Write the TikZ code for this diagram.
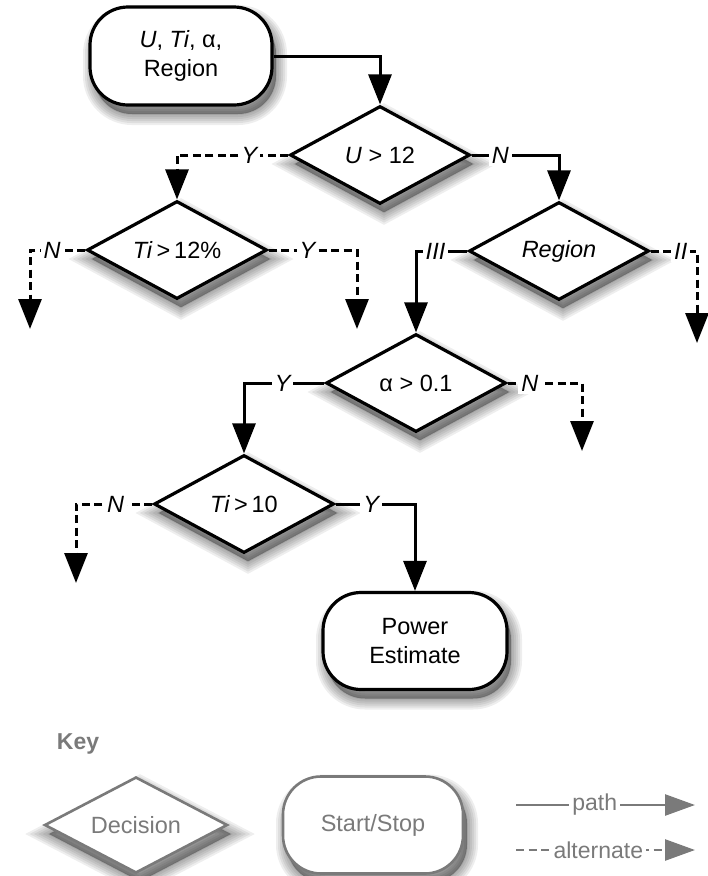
\documentclass[tikz,border=0pt]{standalone}
\usepackage{fontspec}
\setmainfont{Liberation Sans}
\usetikzlibrary{shapes.geometric,arrows.meta,shadows}
\definecolor{keygray}{HTML}{7A7A7A}
\begin{document}
\begin{tikzpicture}[x=1pt,y=-1pt,
  every node/.style={font=\fontsize{23.5}{29}\selectfont},
  sl/.style={drop shadow={shadow xshift=4pt,shadow yshift=-9pt,fill=black,draw=black,opacity=0.065,line width=#1}},
  shad/.style={sl=22pt,sl=18pt,sl=14pt,sl=10pt,sl=6pt,sl=2pt},
  dec/.style={diamond,draw,line width=3.2pt,fill=white,minimum width=180pt,minimum height=98pt,inner sep=0pt,shape aspect=1.8,shad},
  term/.style={rectangle,draw,line width=3.2pt,fill=white,rounded corners=38pt,minimum width=182pt,minimum height=98pt,align=center,shad},
  flow/.style={line width=3pt,-{Triangle[length=30pt,width=23pt]}},
  alt/.style={flow,dash pattern=on 8pt off 4.5pt},
  lab/.style={fill=white,inner sep=3pt,font=\fontsize{23.5}{27}\selectfont\itshape},
  keylab/.style={fill=white,inner sep=3pt,text=keygray,font=\fontsize{23}{27}\selectfont},
  keyflow/.style={line width=2.6pt,keygray,-{Triangle[length=30pt,width=21pt]}},
]
\useasboundingbox (0,0) rectangle (708,876);

% nodes
\node[term] (s) at (181,56) {\textit{U}, \textit{Ti}, α,\\Region};
\node[dec] (d1) at (380,155) {\textit{U} > 12};
\node[dec] (d2) at (177,250) {\textit{Ti}\,>\,12\%};
\node[dec] (d3) at (559,251) {\textit{Region}};
\node[dec] (d4) at (416,383) {α > 0.1};
\node[dec] (d5) at (244,504) {\textit{Ti}\,>\,10};
\node[term,minimum width=184pt,minimum height=97pt] (p) at (415,641) {Power\\Estimate};

% free ends
\coordinate (e1) at (30,329);
\coordinate (e2) at (357,329);
\coordinate (e3) at (697,343);
\coordinate (e4) at (582,451);
\coordinate (e5) at (76,583);

% connectors
\draw[flow] (s.east) -| (d1.north);
\draw[alt] (d1.west) -- node[lab,pos=0.35]{Y} (d1.west -| d2.north) -- (d2.north);
\draw[alt] (d2.west) -- node[lab,pos=0.6]{N} (d2.west -| e1) -- (e1);
\draw[alt] (d2.east) -- node[lab,pos=0.44]{Y} (d2.east -| e2) -- (e2);
\draw[flow] (d1.east) -- node[lab,pos=0.33]{N} (d1.east -| d3.north) -- (d3.north);
\draw[flow] (d3.west) -- node[lab,pos=0.62]{III} (d3.west -| d4.north) -- (d4.north);
\draw[alt] (d3.east) -- node[lab,pos=0.65]{II} (d3.east -| e3) -- (e3);
\draw[flow] (d4.west) -- node[lab,pos=0.52]{Y} (d4.west -| d5.north) -- (d5.north);
\draw[alt] (d4.east) -- node[lab,pos=0.3]{N} (d4.east -| e4) -- (e4);
\draw[alt] (d5.west) -- node[lab,pos=0.48]{N} (d5.west -| e5) -- (e5);
\draw[flow] (d5.east) -- node[lab,pos=0.45]{Y} (d5.east -| p.north) -- (p.north);

% key
\node[font=\fontsize{23}{27}\selectfont\bfseries,text=keygray] (k) at (78,744) {Key};
\node[dec,draw=keygray,text=keygray,line width=2.6pt,minimum width=183pt,minimum height=96pt] (kd) at (136,825) {Decision};
\node[term,draw=keygray,text=keygray,line width=2.6pt,minimum width=180pt,minimum height=97pt] (ks) at (373,825) {Start/Stop};
\coordinate (pa) at (516,805);
\coordinate (pb) at (695,805);
\coordinate (aa) at (516,850);
\coordinate (ab) at (695,850);
\draw[keyflow] (pa) -- node[keylab,pos=0.44]{path} (pb);
\draw[keyflow,dash pattern=on 8pt off 4.5pt] (aa) -- node[keylab,pos=0.46]{alternate} (ab);
\end{tikzpicture}
\end{document}
